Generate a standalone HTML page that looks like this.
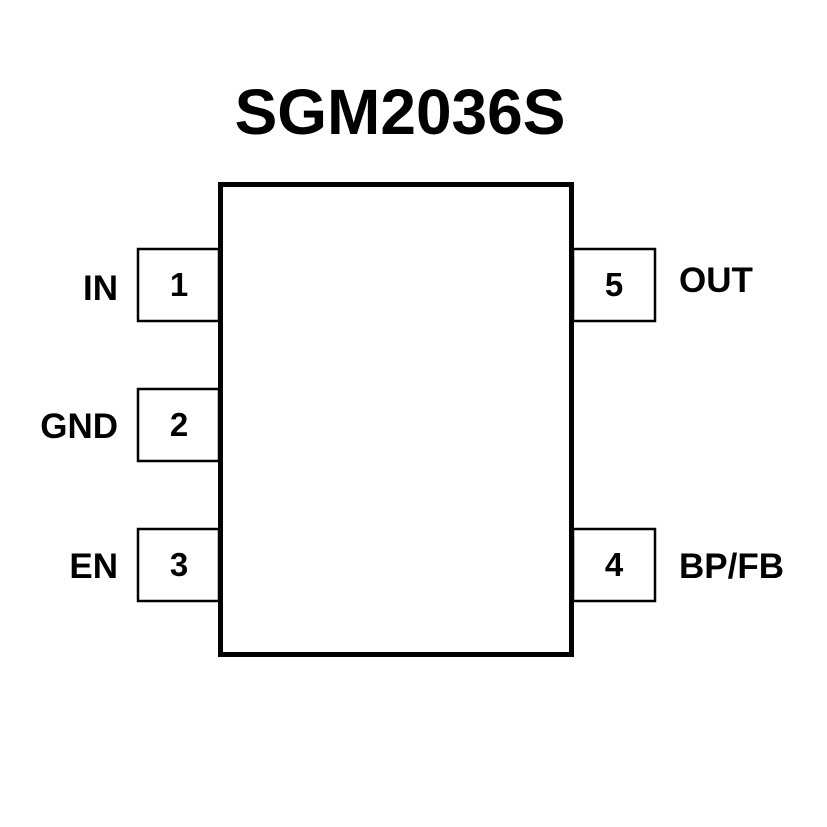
<!DOCTYPE html>
<html><head><style>body{margin:0;background:#fff}</style></head><body>
<svg width="827" height="827" xmlns="http://www.w3.org/2000/svg" style="display:block">
<rect width="827" height="827" fill="#fff"/>
<text x="400" y="134" text-anchor="middle" font-family="Liberation Sans, sans-serif" font-weight="bold" font-size="64">SGM2036S</text>
<g fill="none" stroke="#000" stroke-width="2.5">
<rect x="138" y="249" width="81" height="72"/>
<rect x="138" y="389" width="81" height="72"/>
<rect x="138" y="529" width="81" height="72"/>
<rect x="573" y="249" width="82" height="72"/>
<rect x="573" y="529" width="82" height="72"/>
</g>
<rect x="220.5" y="184.5" width="351" height="470" fill="#fff" stroke="#000" stroke-width="5"/>
<g font-family="Liberation Sans, sans-serif" font-weight="bold" font-size="33">
<text x="179" y="296" text-anchor="middle">1</text>
<text x="179" y="436" text-anchor="middle">2</text>
<text x="179" y="576" text-anchor="middle">3</text>
<text x="614" y="296" text-anchor="middle">5</text>
<text x="614" y="576" text-anchor="middle">4</text>
</g>
<g font-family="Liberation Sans, sans-serif" font-weight="bold" font-size="35">
<text x="118" y="300" text-anchor="end">IN</text>
<text x="118" y="438" text-anchor="end">GND</text>
<text x="118" y="578" text-anchor="end">EN</text>
<text x="679" y="292">OUT</text>
<text x="679" y="578">BP/FB</text>
</g>
</svg>
</body></html>
